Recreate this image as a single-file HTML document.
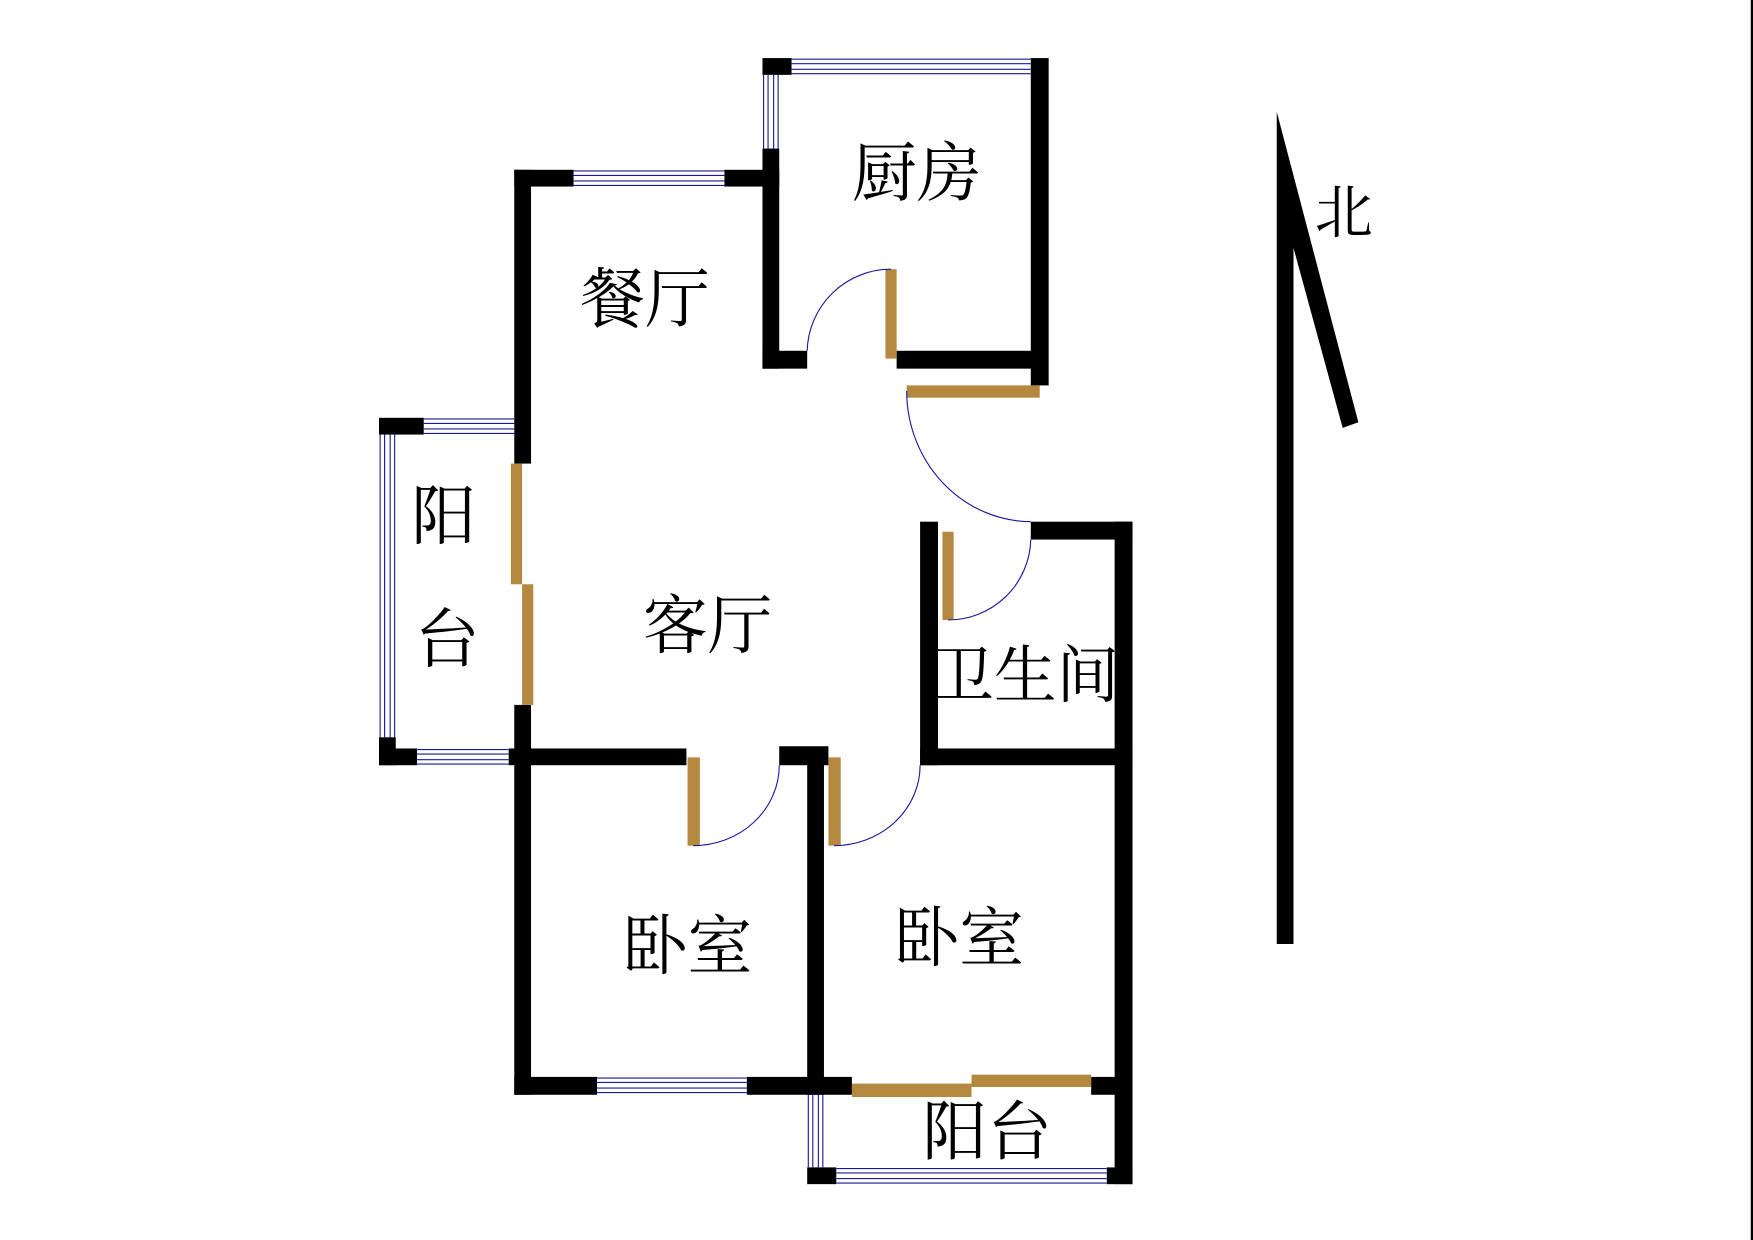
<!DOCTYPE html>
<html><head><meta charset="utf-8"><style>
html,body{margin:0;padding:0;background:#fff;}
svg{display:block;}
text{font-family:"Liberation Serif","Noto Serif CJK SC",serif;fill:#000;}
</style></head><body>
<svg width="1753" height="1240" viewBox="0 0 1568 1110" preserveAspectRatio="none" xmlns="http://www.w3.org/2000/svg">
<rect x="0" y="0" width="1568" height="1110" fill="#fff"/>
<rect x="1566" y="0" width="2" height="1110" fill="#000"/>
<g fill="#000">
<!-- kitchen -->
<rect x="682" y="52" width="26" height="15"/>
<rect x="922" y="52" width="16" height="293"/>
<rect x="682" y="133" width="15" height="197"/>
<rect x="682" y="314" width="40" height="16"/>
<rect x="802" y="314" width="125" height="16"/>
<!-- dining -->
<rect x="460" y="152" width="53" height="15"/>
<rect x="648" y="152" width="49" height="15"/>
<rect x="460" y="152" width="15" height="263"/>
<rect x="460" y="631" width="15" height="54"/>
<!-- left balcony -->
<rect x="339" y="374" width="40" height="15"/>
<rect x="339" y="660" width="15" height="25"/>
<rect x="339" y="670" width="34" height="15"/>
<!-- bathroom -->
<rect x="922" y="467" width="91" height="16"/>
<rect x="823" y="467" width="16" height="218"/>
<rect x="997" y="467" width="16" height="593"/>
<rect x="823" y="670" width="190" height="15"/>
<!-- bedrooms -->
<rect x="455" y="670" width="159" height="15"/>
<rect x="697" y="668" width="44" height="17"/>
<rect x="722" y="670" width="15" height="310"/>
<rect x="460" y="670" width="15" height="310"/>
<rect x="460" y="964" width="74" height="16"/>
<rect x="668" y="964" width="94" height="16"/>
<rect x="976" y="964" width="24" height="16"/>
<rect x="722" y="1045" width="26" height="15"/>
<rect x="990" y="1045" width="23" height="15"/>
<!-- north arrow -->
<polygon points="1142,100 1215,378 1201,383 1157,222 1157,845 1142,845"/>
</g>
<g fill="#b5883f">
<rect x="792" y="241" width="10" height="80"/>
<rect x="457" y="415" width="10" height="108"/>
<rect x="467" y="523" width="10" height="108"/>
<rect x="811" y="345" width="119" height="11"/>
<rect x="843" y="476" width="10" height="79"/>
<rect x="615" y="678" width="11" height="79"/>
<rect x="741" y="678" width="11" height="79"/>
<rect x="762" y="970" width="107" height="12"/>
<rect x="869" y="962" width="107" height="11"/>
</g>
<g fill="none" stroke="#1a1a9a" stroke-width="1">
<!-- arcs -->
<path d="M722,314 A75,75 0 0 1 797,241"/>
<path d="M811,350 A112,117 0 0 0 922,467"/>
<path d="M848,555 A74,74 0 0 0 922,483"/>
<path d="M697,685 A77,72 0 0 1 620,757"/>
<path d="M823,685 A77,72 0 0 1 746,757"/>
<!-- horizontal windows -->
<path d="M708,53H922M708,57H922M708,62H922M708,66H922"/>
<path d="M513,153H648M513,157H648M513,162H648M513,166H648"/>
<path d="M379,375H460M379,379H460M379,384H460M379,388H460"/>
<path d="M373,671H455M373,675H455M373,680H455M373,684H455"/>
<path d="M534,965H668M534,969H668M534,974H668M534,978H668"/>
<path d="M748,1046H990M748,1050H990M748,1055H990M748,1059H990"/>
<!-- vertical windows -->
<path d="M683,67V133M687,67V133M692,67V133M696,67V133"/>
<path d="M340,389V660M344,389V660M349,389V660M353,389V660"/>
<path d="M723,980V1045M727,980V1045M732,980V1045M736,980V1045"/>
</g>
<g font-size="58" text-anchor="middle">
<text x="820" y="175">厨房</text>
<text x="577" y="288">餐厅</text>
<text x="397" y="482">阳</text>
<text x="400" y="592">台</text>
<text x="633" y="580">客厅</text>
<text x="917" y="624" font-size="56">卫生间</text>
<text x="615" y="867">卧室</text>
<text x="858" y="860">卧室</text>
<text x="883" y="1033">阳台</text>
<text x="1202" y="208" font-size="52">北</text>
</g>
</svg>
</body></html>
